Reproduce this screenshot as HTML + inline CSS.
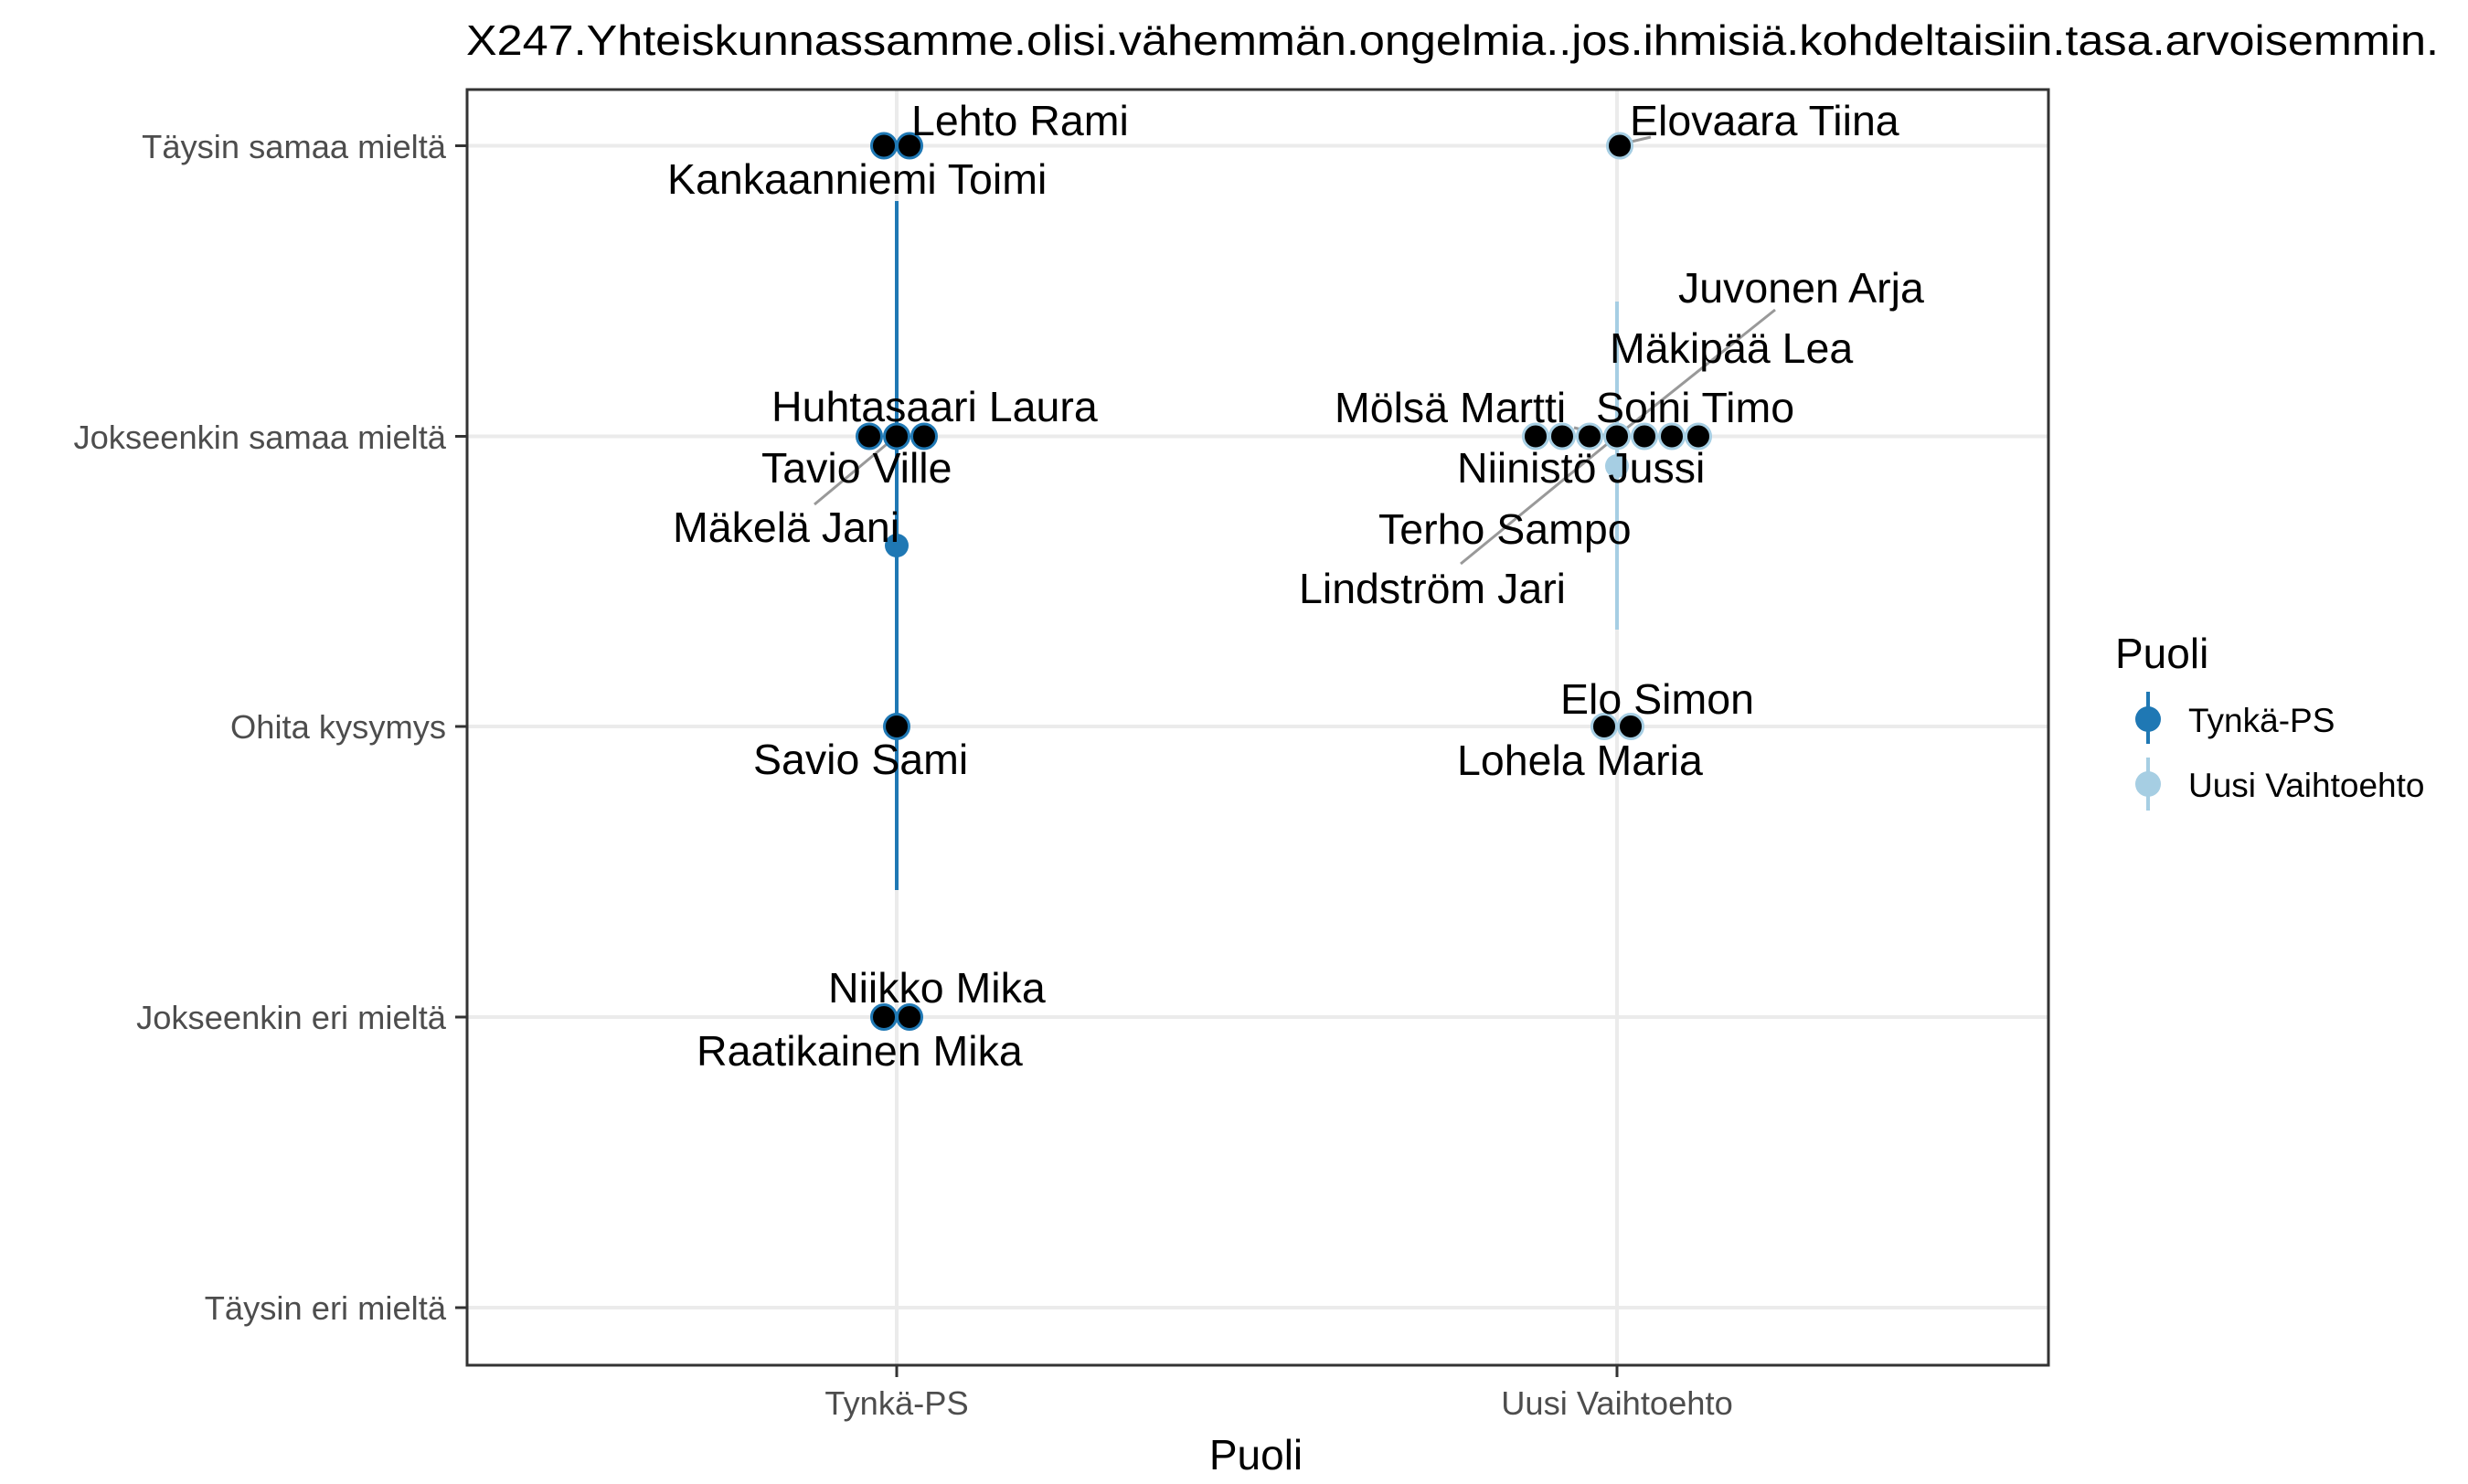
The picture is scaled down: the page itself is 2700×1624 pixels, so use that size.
<!DOCTYPE html>
<html><head><meta charset="utf-8"><style>html,body{margin:0;padding:0;background:#fff}svg{display:block}</style></head><body>
<svg width="2700" height="1624" viewBox="0 0 2700 1624" xmlns="http://www.w3.org/2000/svg" font-family="Liberation Sans, Arial, sans-serif">
<rect width="2700" height="1624" fill="#fff"/>
<text x="510" y="60" font-size="46" textLength="2158" lengthAdjust="spacingAndGlyphs">X247.Yhteiskunnassamme.olisi.vähemmän.ongelmia..jos.ihmisiä.kohdeltaisiin.tasa.arvoisemmin.</text>
<g stroke="#ebebeb" stroke-width="4">
<line x1="510" x2="2241" y1="159.5" y2="159.5"/><line x1="510" x2="2241" y1="477.5" y2="477.5"/><line x1="510" x2="2241" y1="795" y2="795"/><line x1="510" x2="2241" y1="1113" y2="1113"/><line x1="510" x2="2241" y1="1431" y2="1431"/>
<line x1="981" x2="981" y1="97" y2="1495"/><line x1="1769" x2="1769" y1="97" y2="1495"/>
</g>
<line x1="981" x2="981" y1="220" y2="974" stroke="#1f78b4" stroke-width="4"/>
<line x1="1769" x2="1769" y1="330" y2="689" stroke="#a6cee3" stroke-width="4"/>
<g stroke="#999" stroke-width="3">
<line x1="891" y1="552" x2="981" y2="477"/>
<line x1="1942" y1="339" x2="1769" y2="477"/>
<line x1="1598" y1="617" x2="1769" y2="477"/>
<line x1="1722" y1="468" x2="1769" y2="480"/>
<line x1="1772" y1="158" x2="1806" y2="150"/>
</g>
<g fill="#000" stroke="#1f78b4" stroke-width="3">
<circle cx="967" cy="159.5" r="13.5"/><circle cx="995" cy="159.5" r="13.5"/>
<circle cx="951" cy="477.5" r="13.5"/><circle cx="981" cy="477.5" r="13.5"/><circle cx="1011" cy="477.5" r="13.5"/>
<circle cx="981" cy="795" r="13.5"/>
<circle cx="967" cy="1113" r="13.5"/><circle cx="995" cy="1113" r="13.5"/>
</g>
<circle cx="981" cy="597" r="13" fill="#1f78b4"/>
<g fill="#000" stroke="#a6cee3" stroke-width="3">
<circle cx="1772" cy="159.5" r="13.5"/>
<circle cx="1680" cy="477.5" r="13.5"/><circle cx="1709" cy="477.5" r="13.5"/><circle cx="1739" cy="477.5" r="13.5"/><circle cx="1769" cy="477.5" r="13.5"/><circle cx="1799" cy="477.5" r="13.5"/><circle cx="1829" cy="477.5" r="13.5"/><circle cx="1858" cy="477.5" r="13.5"/>
<circle cx="1755" cy="795" r="13.5"/><circle cx="1784" cy="795" r="13.5"/>
</g>
<circle cx="1769" cy="510" r="13" fill="#a6cee3"/>
<g font-size="46.5" fill="#000">
<text x="997" y="148">Lehto Rami</text>
<text x="730" y="212">Kankaanniemi Toimi</text>
<text x="844" y="461">Huhtasaari Laura</text>
<text x="833" y="528">Tavio Ville</text>
<text x="736" y="593">Mäkelä Jani</text>
<text x="824" y="847">Savio Sami</text>
<text x="906" y="1097">Niikko Mika</text>
<text x="762" y="1166">Raatikainen Mika</text>
<text x="1783" y="148">Elovaara Tiina</text>
<text x="1836" y="331">Juvonen Arja</text>
<text x="1761" y="397">Mäkipää Lea</text>
<text x="1460" y="462">Mölsä Martti</text>
<text x="1746" y="462">Soini Timo</text>
<text x="1594" y="528">Niinistö Jussi</text>
<text x="1508" y="595">Terho Sampo</text>
<text x="1421" y="660">Lindström Jari</text>
<text x="1707" y="781">Elo Simon</text>
<text x="1594" y="848">Lohela Maria</text>
</g>
<rect x="511" y="98" width="1730" height="1396" fill="none" stroke="#333" stroke-width="3"/>
<g stroke="#333" stroke-width="3">
<line x1="498" x2="510" y1="159.5" y2="159.5"/><line x1="498" x2="510" y1="477.5" y2="477.5"/><line x1="498" x2="510" y1="795" y2="795"/><line x1="498" x2="510" y1="1113" y2="1113"/><line x1="498" x2="510" y1="1431" y2="1431"/>
<line x1="981" x2="981" y1="1495" y2="1507"/><line x1="1769" x2="1769" y1="1495" y2="1507"/>
</g>
<g font-size="36.3" fill="#4d4d4d" text-anchor="end">
<text x="488" y="173">Täysin samaa mieltä</text>
<text x="488" y="491">Jokseenkin samaa mieltä</text>
<text x="488" y="808">Ohita kysymys</text>
<text x="488" y="1126">Jokseenkin eri mieltä</text>
<text x="488" y="1444">Täysin eri mieltä</text>
</g>
<g font-size="36.3" fill="#4d4d4d" text-anchor="middle">
<text x="981" y="1548">Tynkä-PS</text>
<text x="1769" y="1548">Uusi Vaihtoehto</text>
</g>
<text x="1374" y="1608" font-size="46" text-anchor="middle">Puoli</text>
<text x="2314" y="731" font-size="46">Puoli</text>
<line x1="2350" x2="2350" y1="757" y2="814" stroke="#1f78b4" stroke-width="4"/>
<circle cx="2350" cy="787" r="14" fill="#1f78b4"/>
<line x1="2350" x2="2350" y1="829" y2="887" stroke="#a6cee3" stroke-width="4"/>
<circle cx="2350" cy="858" r="14" fill="#a6cee3"/>
<g font-size="37" fill="#000">
<text x="2394" y="801">Tynkä-PS</text>
<text x="2394" y="872">Uusi Vaihtoehto</text>
</g>
</svg>
</body></html>
